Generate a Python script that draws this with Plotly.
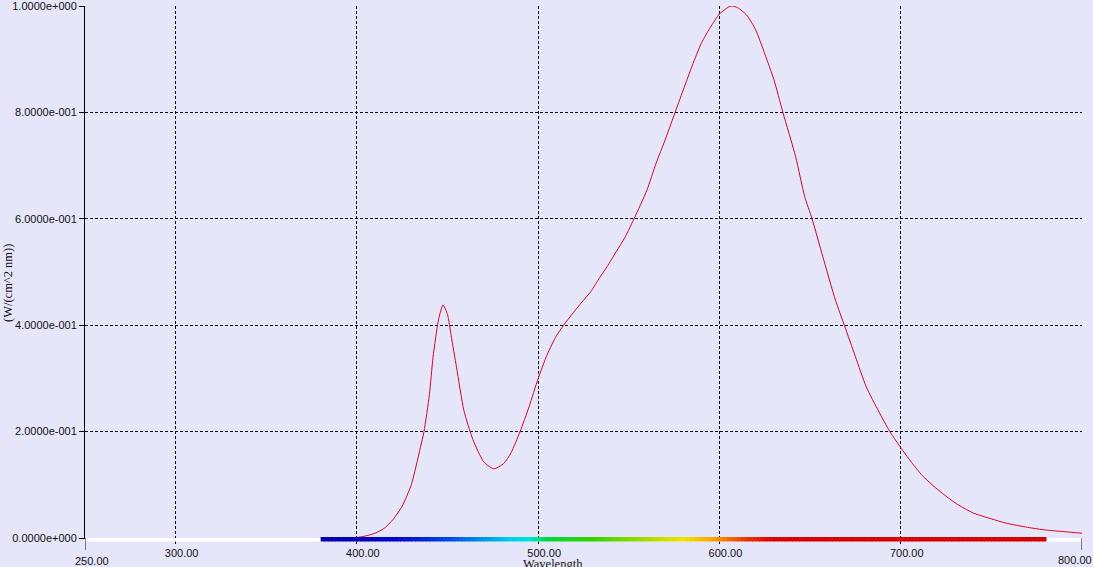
import plotly.graph_objects as go

# ---- data ----
wavelength = [380, 390, 400, 405, 410, 415, 420, 425, 430, 435, 437, 440, 442, 445,
              447.5, 450, 452, 455, 459, 464, 470, 475.5, 481, 485, 490, 495, 500,
              505, 510, 514, 519, 524, 529, 534, 538, 543, 548, 553, 560, 565, 570,
              575, 580, 585, 590, 595, 600, 605, 607, 610, 615, 620, 625, 630,
              635, 642, 647, 651, 657, 664, 669, 675, 681, 688, 694, 701, 706, 712,
              718, 723, 730, 740, 750, 758, 770, 780, 790, 800]
irradiance = [0, 0, 0.001, 0.004, 0.009, 0.018, 0.035, 0.06, 0.10, 0.17, 0.20, 0.27,
              0.34, 0.41, 0.438, 0.42, 0.38, 0.32, 0.24, 0.185, 0.143, 0.130, 0.14,
              0.16, 0.20, 0.247, 0.30, 0.345, 0.38, 0.40, 0.422, 0.443, 0.463, 0.49,
              0.51, 0.538, 0.566, 0.601, 0.654, 0.704, 0.748, 0.795, 0.842, 0.888,
              0.93, 0.96, 0.985, 0.998, 1.0, 0.997, 0.983, 0.955, 0.91, 0.862,
              0.80, 0.717, 0.642, 0.601, 0.529, 0.447, 0.399, 0.341, 0.284,
              0.237, 0.20, 0.165, 0.142, 0.117, 0.098, 0.084, 0.066, 0.047, 0.036,
              0.028, 0.020, 0.015, 0.012, 0.009]

x_ticks = [300, 400, 500, 600, 700]
x_tick_text = ["300.00", "400.00", "500.00", "600.00", "700.00"]
x_end_ticks = [250, 800]
x_end_text = ["250.00", "800.00"]
y_ticks = [0, 0.2, 0.4, 0.6, 0.8, 1.0]
y_tick_text = ["0.0000e+000", "2.0000e-001", "4.0000e-001", "6.0000e-001",
               "8.0000e-001", "1.0000e+000"]
x_title = "Wavelength"
y_title = "(W/(cm^2 nm))"

# visible-spectrum colour band stops (decoration under the axis)
spectrum_wl = [380, 420, 450, 485, 495, 505, 530, 560, 580, 595, 615, 630, 780]
spectrum_rgb = [(0, 0, 170), (0, 0, 205), (0, 70, 235), (0, 210, 235), (0, 225, 220),
                (0, 215, 60), (50, 210, 0), (170, 220, 0), (240, 230, 0),
                (250, 170, 0), (235, 50, 0), (220, 0, 0), (215, 0, 0)]

BG = "#E6E6FA"
TICK_FONT = dict(family="Liberation Sans, Arial, sans-serif", size=11, color="#111")
SERIF = dict(family="Liberation Serif, Times New Roman, serif", size=12.5, color="#111")


def band_color(w):
    for i in range(len(spectrum_wl) - 1):
        a, b = spectrum_wl[i], spectrum_wl[i + 1]
        if a <= w <= b:
            t = (w - a) / (b - a)
            c0, c1 = spectrum_rgb[i], spectrum_rgb[i + 1]
            return "rgb(%d,%d,%d)" % tuple(round(c0[k] + (c1[k] - c0[k]) * t) for k in range(3))
    return "rgb(%d,%d,%d)" % spectrum_rgb[-1]


fig = go.Figure()
fig.add_trace(go.Scatter(
    x=wavelength, y=irradiance, mode="lines",
    line=dict(color="rgb(225,0,35)", width=1, shape="spline", smoothing=0.6),
    cliponaxis=False, hoverinfo="x+y", showlegend=False))

shapes = []
# white strip under the x axis
shapes.append(dict(type="rect", xref="paper", x0=0, x1=1, yref="paper",
                   ysizemode="pixel", yanchor=0, y0=-3.5, y1=0,
                   fillcolor="white", line=dict(width=0), layer="above"))
# spectrum band
step = 2
w = spectrum_wl[0]
while w < spectrum_wl[-1]:
    shapes.append(dict(type="rect", xref="x", x0=w, x1=w + step + 0.4, yref="paper",
                       ysizemode="pixel", yanchor=0, y0=-3.5, y1=1,
                       fillcolor=band_color(w + step / 2), line=dict(width=0),
                       layer="above"))
    w += step
# long end ticks
for v in x_end_ticks:
    shapes.append(dict(type="line", xref="x", x0=v, x1=v, yref="paper",
                       ysizemode="pixel", yanchor=0, y0=-12, y1=0,
                       line=dict(color="black", width=1), layer="above"))

annotations = [
    dict(text=x_end_text[0], x=x_end_ticks[0], xref="x", y=0, yref="paper",
         xanchor="center", yanchor="middle", xshift=7, yshift=-23,
         showarrow=False, font=TICK_FONT),
    dict(text=x_end_text[1], x=x_end_ticks[1], xref="x", y=0, yref="paper",
         xanchor="center", yanchor="middle", xshift=-7, yshift=-22,
         showarrow=False, font=TICK_FONT),
    dict(text=x_title, x=0.4692, xref="paper", y=0, yref="paper",
         xanchor="center", yanchor="middle", yshift=-26, showarrow=False, font=SERIF),
    dict(text=y_title, x=0, xref="paper", y=0.5, yref="paper", xanchor="center",
         yanchor="middle", xshift=-77, yshift=-11, textangle=-90,
         showarrow=False, font=SERIF),
]

fig.update_layout(
    width=1093, height=567, autosize=False,
    margin=dict(l=85, r=11, t=6, b=29, pad=0, autoexpand=False),
    paper_bgcolor=BG, plot_bgcolor=BG,
    showlegend=False,
    shapes=shapes, annotations=annotations,
    xaxis=dict(range=[250, 800], tickmode="array", tickvals=x_ticks,
               ticktext=x_tick_text, ticks="outside", ticklen=5, tickcolor="black",
               tickwidth=1, ticklabelshift=6, tickfont=TICK_FONT,
               ticklabeloverflow="allow",
               showgrid=True, gridcolor="black", gridwidth=1, griddash="3px,2px",
               showline=True, linecolor="black", linewidth=1, zeroline=False,
               fixedrange=True),
    yaxis=dict(range=[0, 1], tickmode="array", tickvals=y_ticks,
               ticktext=y_tick_text, ticks="outside", ticklen=5, tickcolor="black",
               tickwidth=1, tickfont=TICK_FONT, ticklabeloverflow="allow",
               showgrid=True, gridcolor="black", gridwidth=1, griddash="3px,2px",
               showline=True, linecolor="black", linewidth=1, zeroline=False,
               fixedrange=True),
)

fig.write_html(
    "out.html",
    config={"displayModeBar": False},
    post_script="document.body.style.margin='0';document.body.style.overflow='hidden';"
                "document.body.style.background='" + BG + "';",
)
